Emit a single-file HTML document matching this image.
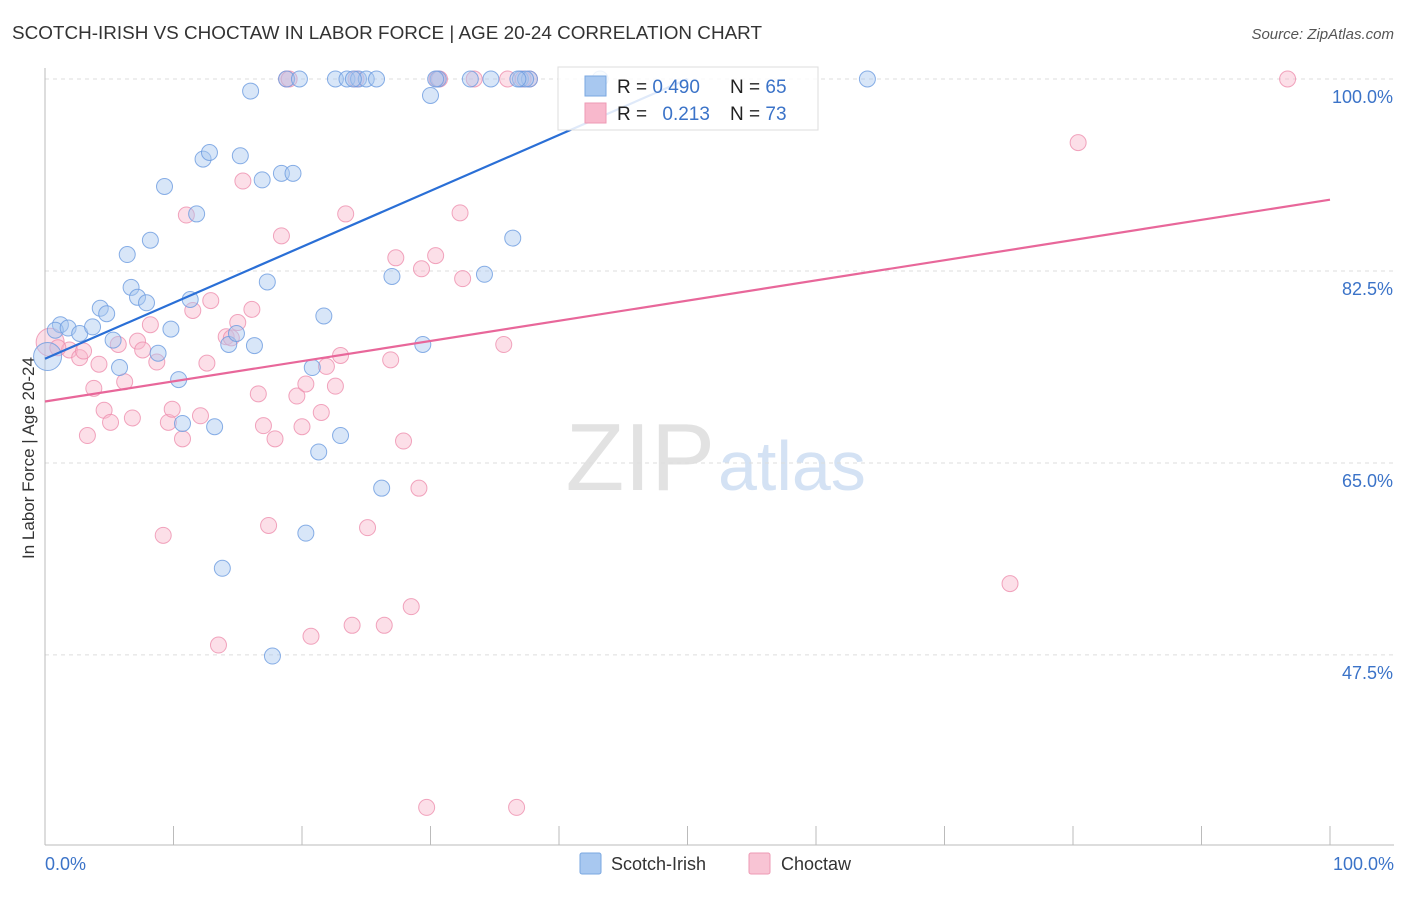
<!DOCTYPE html>
<html><head><meta charset="utf-8"><style>
body{margin:0;background:#fff;font-family:"Liberation Sans",sans-serif;}
svg text{font-family:"Liberation Sans",sans-serif;}
</style></head><body>
<svg id="chart" width="1406" height="892">
<text x="12" y="39" font-size="18" fill="#333" textLength="750" lengthAdjust="spacingAndGlyphs">SCOTCH-IRISH VS CHOCTAW IN LABOR FORCE | AGE 20-24 CORRELATION CHART</text>
<text x="1394" y="39" font-size="15" fill="#555" font-style="italic" text-anchor="end">Source: ZipAtlas.com</text>
<text x="34" y="458" font-size="17" fill="#333" text-anchor="middle" transform="rotate(-90 34 458)">In Labor Force | Age 20-24</text>
<text x="715" y="490" font-size="96" fill="#e2e2e2" text-anchor="end" font-family="Liberation Serif">ZIP</text>
<text x="718" y="490" font-size="70" fill="#d4e2f4">atlas</text>
<g id="grid"></g><g id="ticks"></g><g id="pts"></g><g id="lines"></g>
<g>
<rect x="558" y="67" width="260" height="63" fill="#fff" fill-opacity="0.85" stroke="#ddd"/>
<rect x="585" y="76" width="21" height="20" fill="#a8c8f0" stroke="#7aa7e0"/>
<rect x="585" y="103" width="21" height="20" fill="#f8b8cc" stroke="#ee9ab4"/>
<text x="617" y="93" font-size="19" fill="#222">R = <tspan fill="#3b73c8">0.490</tspan></text>
<text x="730" y="93" font-size="19" fill="#222">N = <tspan fill="#3b73c8">65</tspan></text>
<text x="617" y="120" font-size="19" fill="#222">R = <tspan fill="#3b73c8" dx="10">0.213</tspan></text>
<text x="730" y="120" font-size="19" fill="#222">N = <tspan fill="#3b73c8">73</tspan></text>
</g>
<g>
<rect x="580" y="853" width="21" height="21" fill="#a8c8f0" stroke="#7aa7e0" rx="2"/>
<text x="611" y="870" font-size="18" fill="#333">Scotch-Irish</text>
<rect x="749" y="853" width="21" height="21" fill="#f8c4d4" stroke="#ee9ab4" rx="2"/>
<text x="781" y="870" font-size="18" fill="#333">Choctaw</text>
</g>
<text x="45" y="870" font-size="18" fill="#3b73c8">0.0%</text>
<text x="1394" y="870" font-size="18" fill="#3b73c8" text-anchor="end">100.0%</text>
</svg>
<script>
const yTicks=[100,82.5,65,47.5];
const yTickLabels=["100.0%","82.5%","65.0%","47.5%"];
const blueX=[0.2,1.2,0.8,1.8,2.7,3.7,4.3,4.8,5.3,5.8,6.4,6.7,7.2,7.9,8.2,8.8,9.3,9.8,10.4,10.7,11.3,11.8,12.3,12.8,13.2,13.8,14.3,14.9,15.2,16.0,16.3,16.9,17.3,17.7,18.4,18.8,19.3,19.8,20.3,20.8,21.3,21.7,22.6,23.0,23.5,24.4,25.0,25.8,26.2,27.0,29.4,30.0,30.6,33.1,34.2,34.7,36.4,37.0,37.7,43.2,64.0,24.0,37.4,36.8,30.4];
const blueY=[74.7,77.6,77.1,77.3,76.8,77.4,79.1,78.6,76.2,73.7,84.0,81.0,80.1,79.6,85.3,75.0,90.2,77.2,72.6,68.6,79.9,87.7,92.7,93.3,68.3,55.4,75.8,76.8,93.0,98.9,75.7,90.8,81.5,47.4,91.4,100,91.4,100,58.6,73.7,66.0,78.4,100,67.5,100,100,100,100,62.7,82.0,75.8,98.5,100,100,82.2,100,85.5,100,100,100,100,100,100,100,100];
const pinkX=[0.4,1.9,2.7,3.3,3.8,4.2,4.6,5.1,5.7,6.2,6.8,7.2,7.6,8.2,8.7,9.2,9.6,9.9,10.7,11.0,11.5,12.1,12.6,12.9,13.5,14.1,15.0,15.4,16.1,16.6,17.0,17.4,17.9,18.4,18.8,19.6,20.0,20.3,20.7,21.5,21.9,22.6,23.0,23.4,23.9,25.1,26.4,26.9,27.3,27.9,28.5,29.1,29.3,29.7,30.4,30.5,32.3,32.5,33.4,35.7,36.0,36.7,37.7,75.1,80.4,96.7,24.2,37.2,14.5,1.0,3.0,19.0,30.7];
const pinkY=[76.0,75.3,74.6,67.5,71.8,74.0,69.8,68.7,75.8,72.4,69.1,76.1,75.3,77.6,74.2,58.4,68.7,69.9,67.2,87.6,78.9,69.3,74.1,79.8,48.4,76.5,77.8,90.7,79.0,71.3,68.4,59.3,67.2,85.7,100,71.1,68.3,72.2,49.2,69.6,73.8,72.0,74.8,87.7,50.2,59.1,50.2,74.4,83.7,67.0,51.9,62.7,82.7,33.6,83.9,100,87.8,81.8,100,75.8,100,33.6,100,54.0,94.2,100,100,100,76.4,75.5,75.2,100,100];
const blueTrend=[0,74.5,50,100.0];
const pinkTrend=[0,70.6,100,89.0];
const X=v=>45+v*12.85, Y=v=>79+(100-v)*10.97;
const ns="http://www.w3.org/2000/svg";
function mk(t,a,p){const e=document.createElementNS(ns,t);for(const k in a)e.setAttribute(k,a[k]);document.getElementById(p).appendChild(e);return e;}
yTicks.forEach((v,i)=>{
 const l=mk('line',{x1:45,x2:1394,y1:Y(v),y2:Y(v),stroke:'#ddd','stroke-dasharray':'4,4'},'grid');
 
 
 const t=mk('text',{x:1393,y:Y(v)+24,'font-size':18,fill:'#3b73c8','text-anchor':'end'},'grid');
 t.textContent=yTickLabels[i];
 
 
});
mk('line',{x1:45,x2:45,y1:68,y2:845,stroke:'#bbb'},'ticks');
mk('line',{x1:45,x2:1394,y1:845,y2:845,stroke:'#bbb'},'ticks');
for(let i=0;i<=10;i++){const t=mk('line',{x1:X(i*10),x2:X(i*10),y1:826,y2:845,stroke:'#bbb'},'ticks');
 
 }
function pts(xs,ys,fill,stroke,name){xs.forEach((x,i)=>{
 const big=i===0;
 const c=mk('circle',{cx:X(x),cy:Y(ys[i]),r:big?14:8,fill:fill,'fill-opacity':0.45,stroke:stroke,'stroke-opacity':0.8},'pts');
 
 
});}
pts(pinkX,pinkY,'#f8b8cc','#ee8fae','choctaw-point');
pts(blueX,blueY,'#a8c8f0','#6b9be0','scotch-irish-point');
const b=mk('line',{x1:X(blueTrend[0]),y1:Y(blueTrend[1]),x2:X(blueTrend[2]),y2:Y(blueTrend[3]),stroke:'#2a6fd6','stroke-width':2.2},'lines');


const p=mk('line',{x1:X(pinkTrend[0]),y1:Y(pinkTrend[1]),x2:X(pinkTrend[2]),y2:Y(pinkTrend[3]),stroke:'#e8679a','stroke-width':2.2},'lines');


</script>
</body></html>
